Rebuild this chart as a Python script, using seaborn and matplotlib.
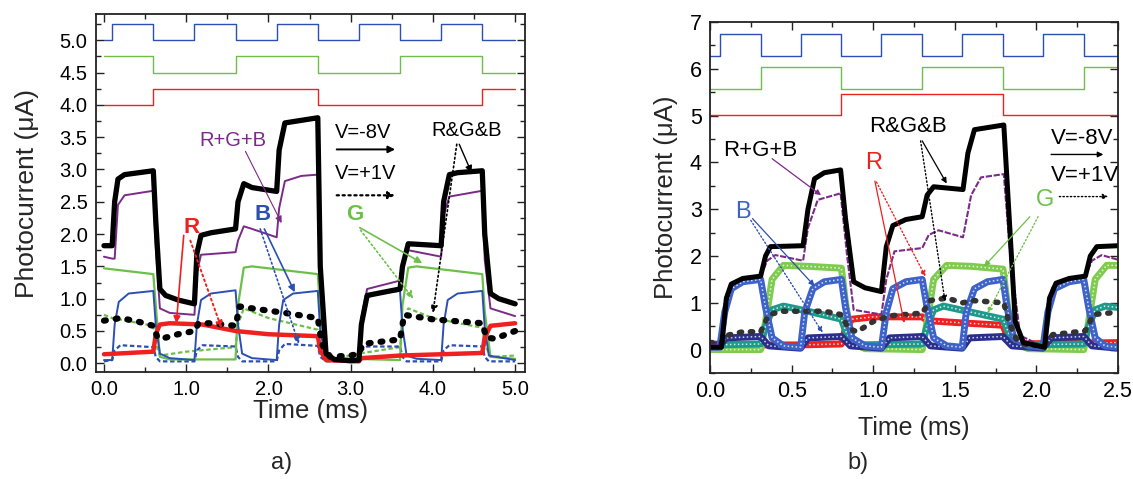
import numpy as np
import pandas as pd
import matplotlib
matplotlib.use("Agg")
import matplotlib.pyplot as plt
from matplotlib.ticker import MultipleLocator, FormatStrFormatter
import seaborn as sns

# ---------------- Panel a) data (time in ms, current in uA) ----------------
a_blue_sq_t = [0.0, 0.1, 0.6, 1.1, 1.6, 2.1, 2.6, 3.1, 3.6, 4.1, 4.6, 5.0]
a_blue_sq_v = [5.0, 5.25, 5.0, 5.25, 5.0, 5.25, 5.0, 5.25, 5.0, 5.25, 5.0, 5.0]
a_green_sq_t = [0.0, 0.6, 1.6, 2.6, 3.6, 4.6, 5.0]
a_green_sq_v = [4.75, 4.5, 4.75, 4.5, 4.75, 4.5, 4.5]
a_red_sq_t = [0.0, 0.6, 2.6, 4.6, 5.0]
a_red_sq_v = [4.0, 4.25, 4.0, 4.25, 4.25]

a_rgb_m8_t = [0.0, 0.1, 0.13, 0.17, 0.25, 0.6, 0.63, 0.68, 0.75, 0.9, 1.1,
              1.13, 1.18, 1.3, 1.6, 1.63, 1.7, 1.8, 2.1, 2.13, 2.2, 2.4, 2.6,
              2.63, 2.7, 2.8, 3.0, 3.1, 3.13, 3.2, 3.6, 3.63, 3.7, 4.1, 4.13,
              4.2, 4.3, 4.6, 4.63, 4.7, 4.8, 5.0]
a_rgb_m8_v = [1.82, 1.82, 2.5, 2.85, 2.92, 2.98, 2.2, 1.15, 1.05, 0.98, 0.92,
              1.7, 1.98, 2.02, 2.08, 2.5, 2.78, 2.72, 2.66, 3.3, 3.72, 3.76, 3.8,
              1.5, 0.15, 0.06, 0.04, 0.05, 0.6, 1.05, 1.15, 1.5, 1.85, 1.82, 2.5,
              2.92, 2.95, 2.98, 2.0, 1.08, 1.0, 0.92]

a_sum_t = [0.0, 0.1, 0.13, 0.17, 0.25, 0.6, 0.63, 0.68, 0.8, 1.1, 1.13, 1.18,
           1.6, 1.63, 1.7, 1.8, 2.1, 2.13, 2.2, 2.4, 2.6, 2.63, 2.7, 2.8, 3.1,
           3.13, 3.2, 3.6, 3.63, 3.7, 4.1, 4.13, 4.2, 4.6, 4.63, 4.7, 5.0]
a_sum_v = [1.65, 1.62, 1.62, 2.45, 2.6, 2.67, 1.8, 0.85, 0.78, 0.75, 1.4, 1.68,
           1.72, 1.9, 2.12, 2.08, 1.95, 2.4, 2.82, 2.9, 2.92, 1.5, 0.15, 0.07, 0.05,
           0.7, 1.15, 1.28, 1.55, 1.75, 1.65, 2.3, 2.58, 2.67, 1.6, 0.85, 0.73]

a_g_m8_t = [0.0, 0.6, 0.63, 0.68, 0.8, 1.6, 1.63, 1.7, 1.8, 2.6, 2.63, 2.7,
            3.6, 3.63, 3.7, 3.8, 4.6, 4.63, 4.7, 5.0]
a_g_m8_v = [1.47, 1.38, 0.9, 0.1, 0.06, 0.06, 0.9, 1.48, 1.5, 1.38, 0.8, 0.08,
            0.05, 0.9, 1.48, 1.5, 1.38, 0.8, 0.1, 0.07]
a_g_p1_t = [0.0, 0.1, 0.6, 0.63, 0.68, 1.0, 1.6, 1.63, 1.7, 2.0, 2.6, 2.63, 2.7,
            3.1, 3.6, 3.63, 3.7, 4.0, 4.6, 4.63, 4.7, 5.0]
a_g_p1_v = [0.75, 0.7, 0.58, 0.3, 0.12, 0.18, 0.25, 0.6, 0.85, 0.7, 0.52, 0.25,
            0.05, 0.15, 0.25, 0.6, 0.85, 0.7, 0.55, 0.3, 0.1, 0.12]

a_b_m8_t = [0.0, 0.1, 0.13, 0.18, 0.3, 0.6, 0.63, 0.68, 0.8, 1.1, 1.13, 1.18,
            1.3, 1.6, 1.63, 1.68, 1.8, 2.1, 2.13, 2.18, 2.3, 2.6, 2.63, 2.7, 3.1,
            3.13, 3.18, 3.3, 3.6, 3.63, 3.68, 3.8, 4.1, 4.13, 4.18, 4.3, 4.6,
            4.63, 4.68, 5.0]
a_b_m8_v = [0.05, 0.05, 0.6, 0.95, 1.08, 1.12, 0.6, 0.15, 0.08, 0.05, 0.6, 0.98,
            1.08, 1.13, 0.6, 0.15, 0.08, 0.05, 0.6, 0.98, 1.08, 1.12, 0.5, 0.05,
            0.03, 0.7, 1.0, 1.08, 1.12, 0.55, 0.12, 0.07, 0.05, 0.6, 0.98, 1.08,
            1.12, 0.55, 0.12, 0.05]
a_b_p1_t = [0.0, 0.1, 0.13, 0.2, 0.6, 0.63, 0.68, 1.1, 1.13, 1.2, 1.6, 1.63,
            1.68, 2.1, 2.13, 2.2, 2.6, 2.63, 2.7, 3.1, 3.13, 3.2, 3.6, 3.63,
            3.68, 4.1, 4.13, 4.2, 4.6, 4.63, 4.68, 5.0]
a_b_p1_v = [0.03, 0.05, 0.2, 0.28, 0.25, 0.1, 0.03, 0.03, 0.2, 0.28, 0.26, 0.1,
            0.03, 0.03, 0.2, 0.3, 0.27, 0.1, 0.03, 0.03, 0.2, 0.26, 0.26, 0.1,
            0.03, 0.03, 0.2, 0.28, 0.26, 0.1, 0.03, 0.03]

a_r_m8_t = [0.0, 0.6, 0.63, 0.68, 0.8, 1.2, 1.6, 2.0, 2.6, 2.63, 2.7, 3.1,
            3.13, 3.6, 4.6, 4.63, 4.7, 5.0]
a_r_m8_v = [0.14, 0.18, 0.45, 0.6, 0.62, 0.6, 0.5, 0.45, 0.42, 0.2, 0.05, 0.03,
            0.08, 0.12, 0.16, 0.4, 0.58, 0.62]

a_rgb_p1_t = [0.0, 0.2, 0.4, 0.6, 0.65, 0.7, 0.9, 1.1, 1.15, 1.3, 1.6, 1.65,
              1.8, 2.2, 2.6, 2.65, 2.75, 3.0, 3.1, 3.15, 3.6, 3.65, 4.0, 4.6,
              4.65, 4.75, 5.0]
a_rgb_p1_v = [0.66, 0.7, 0.65, 0.58, 0.4, 0.38, 0.45, 0.5, 0.62, 0.62, 0.58,
              0.88, 0.85, 0.78, 0.7, 0.3, 0.1, 0.12, 0.15, 0.3, 0.37, 0.75, 0.68,
              0.62, 0.4, 0.38, 0.5]

# ---------------- Panel b) data ----------------
b_blue_sq_t = [0.0, 0.06, 0.31, 0.555, 0.805, 1.05, 1.30, 1.545, 1.795, 2.04, 2.29, 2.5]
b_blue_sq_v = [6.27, 6.75, 6.27, 6.75, 6.27, 6.75, 6.27, 6.75, 6.27, 6.75, 6.27, 6.27]
b_green_sq_t = [0.0, 0.31, 0.805, 1.30, 1.795, 2.29, 2.5]
b_green_sq_v = [5.56, 6.03, 5.56, 6.03, 5.56, 6.03, 6.03]
b_red_sq_t = [0.0, 0.805, 1.795, 2.5]
b_red_sq_v = [5.01, 5.46, 5.01, 5.01]

b_rgb_m8_t = [0.0, 0.07, 0.1, 0.13, 0.2, 0.31, 0.34, 0.37, 0.57, 0.6, 0.64, 0.7,
              0.8, 0.83, 0.88, 0.95, 1.05, 1.08, 1.12, 1.2, 1.3, 1.33, 1.37,
              1.55, 1.58, 1.62, 1.8, 1.83, 1.87, 1.92, 2.05, 2.08, 2.12, 2.2,
              2.3, 2.33, 2.37, 2.5]
b_rgb_m8_v = [0.05, 0.05, 1.1, 1.4, 1.52, 1.57, 2.0, 2.2, 2.22, 3.0, 3.65, 3.78,
              3.84, 2.8, 1.45, 1.32, 1.24, 2.2, 2.65, 2.78, 2.84, 3.3, 3.48,
              3.42, 4.2, 4.7, 4.8, 3.0, 0.6, 0.15, 0.05, 1.1, 1.42, 1.52,
              1.57, 2.0, 2.2, 2.22]
b_sum_t = [0.0, 0.07, 0.1, 0.14, 0.2, 0.31, 0.35, 0.4, 0.57, 0.6, 0.66, 0.8,
           0.84, 0.88, 1.05, 1.08, 1.13, 1.3, 1.34, 1.4, 1.55, 1.6, 1.66, 1.8,
           1.84, 1.9, 2.05, 2.08, 2.13, 2.3, 2.34, 2.4, 2.5]
b_sum_v = [0.1, 0.1, 1.0, 1.4, 1.52, 1.57, 1.9, 2.02, 1.9, 2.6, 3.2, 3.34,
           2.0, 0.85, 0.75, 1.5, 2.1, 2.17, 2.45, 2.55, 2.4, 3.3, 3.68, 3.75,
           2.0, 0.3, 0.05, 1.0, 1.42, 1.57, 1.9, 2.02, 1.92]

b_b_m8_t = [0.0, 0.06, 0.09, 0.13, 0.2, 0.31, 0.34, 0.38, 0.45, 0.555, 0.58,
            0.63, 0.7, 0.805, 0.83, 0.87, 0.95, 1.05, 1.08, 1.12, 1.2, 1.30,
            1.33, 1.37, 1.45, 1.545, 1.57, 1.62, 1.7, 1.795, 1.82, 1.86, 1.95,
            2.04, 2.07, 2.11, 2.2, 2.29, 2.32, 2.36, 2.42, 2.5]
b_b_m8_v = [0.05, 0.05, 0.8, 1.3, 1.45, 1.5, 0.9, 0.25, 0.08, 0.05, 0.8,
            1.3, 1.45, 1.5, 0.9, 0.25, 0.08, 0.05, 0.8, 1.3, 1.45, 1.5,
            0.9, 0.25, 0.08, 0.05, 0.8, 1.3, 1.45, 1.5, 0.9, 0.25, 0.08,
            0.05, 0.8, 1.3, 1.45, 1.5, 0.9, 0.25, 0.08, 0.05]
b_b_p1_t = [0.0, 0.06, 0.1, 0.31, 0.36, 0.555, 0.6, 0.805, 0.86, 1.05, 1.1,
            1.30, 1.35, 1.545, 1.59, 1.795, 1.85, 2.04, 2.09, 2.29, 2.34, 2.5]
b_b_p1_v = [0.1, 0.1, 0.25, 0.28, 0.08, 0.03, 0.25, 0.28, 0.08, 0.03, 0.25,
            0.28, 0.08, 0.03, 0.25, 0.28, 0.08, 0.03, 0.25, 0.28, 0.08, 0.03]

b_g_m8_t = [0.0, 0.31, 0.34, 0.38, 0.45, 0.6, 0.805, 0.83, 0.87, 0.95, 1.30,
            1.33, 1.37, 1.45, 1.6, 1.795, 1.82, 1.86, 1.95, 2.29, 2.32, 2.36,
            2.43, 2.5]
b_g_m8_v = [0.0, 0.0, 0.6, 1.5, 1.8, 1.78, 1.74, 1.0, 0.15, 0.02, 0.0,
            0.6, 1.5, 1.8, 1.78, 1.72, 1.0, 0.15, 0.02, 0.0, 0.6, 1.5,
            1.8, 1.8]
b_g_p1_t = [0.0, 0.31, 0.34, 0.38, 0.45, 0.6, 0.805, 0.83, 0.88, 1.30, 1.33,
            1.37, 1.43, 1.6, 1.795, 1.83, 1.88, 2.29, 2.32, 2.36, 2.42, 2.5]
b_g_p1_v = [0.1, 0.12, 0.5, 0.85, 0.93, 0.82, 0.65, 0.4, 0.1, 0.12, 0.5,
            0.85, 0.93, 0.8, 0.65, 0.35, 0.1, 0.12, 0.5, 0.85, 0.93, 0.9]

b_r_m8_t = [0.0, 0.3, 0.55, 0.805, 0.83, 0.87, 1.0, 1.30, 1.33, 1.5, 1.795,
            1.82, 1.87, 2.5]
b_r_m8_v = [0.12, 0.1, 0.1, 0.12, 0.45, 0.65, 0.7, 0.7, 0.62, 0.58, 0.52,
            0.3, 0.12, 0.15]

b_rgb_p1_t = [0.0, 0.07, 0.1, 0.2, 0.31, 0.36, 0.45, 0.7, 0.8, 0.85, 0.9, 1.0,
              1.1, 1.3, 1.35, 1.45, 1.55, 1.6, 1.8, 1.83, 1.88, 1.95, 2.05,
              2.1, 2.3, 2.35, 2.5]
b_rgb_p1_v = [0.15, 0.15, 0.3, 0.38, 0.38, 0.75, 0.82, 0.82, 0.75, 0.45, 0.38,
              0.6, 0.72, 0.78, 1.05, 1.1, 1.0, 1.05, 1.0, 0.6, 0.2, 0.08, 0.1,
              0.32, 0.4, 0.75, 0.8]

# ---------------- Styling ----------------
sns.set_theme(style="ticks")
plt.rcParams['font.family'] = ['Liberation Sans', 'DejaVu Sans']

BLUE = '#2c4fb3'
GREEN = '#6cc04a'
RED = '#ee2020'
PURPLE = '#7b2a88'
BLUE_C = '#3d62c9'
NAVY = '#2a2f8c'
TEAL = '#1f998a'
GREEN_C = '#7fcb50'

fig = plt.figure(figsize=(11.33, 4.79), dpi=100)
ax1 = fig.add_axes([0.0845, 0.224, 0.3789, 0.746])
ax2 = fig.add_axes([0.6267, 0.2213, 0.3601, 0.7327])


def line(ax, t, v, color, lw=1.0, ls='-', step=False, **kw):
    extra = {'drawstyle': 'steps-post'} if step else {}
    sns.lineplot(x=t, y=v, ax=ax, color=color, lw=lw, linestyle=ls,
                 estimator=None, sort=False, legend=False, **extra, **kw)


def band(ax, t, v, color, lw=5.0):
    # emulate dense open-circle markers: thick colored band with light holes
    line(ax, t, v, color, lw=lw)
    line(ax, t, v, 'white', lw=1.1, ls=(0, (1, 1.6)), alpha=0.8)


# ---- panel a ----
line(ax1, a_blue_sq_t, a_blue_sq_v, BLUE, 1.0, step=True)
line(ax1, a_green_sq_t, a_green_sq_v, GREEN, 1.0, step=True)
line(ax1, a_red_sq_t, a_red_sq_v, RED, 1.0, step=True)

line(ax1, a_g_p1_t, a_g_p1_v, GREEN, 1.6, ls=(0, (2, 1.2)))
line(ax1, a_b_p1_t, a_b_p1_v, BLUE, 1.6, ls=(0, (2, 1.2)))
line(ax1, a_g_m8_t, a_g_m8_v, GREEN, 1.6)
line(ax1, a_b_m8_t, a_b_m8_v, BLUE, 1.4)
line(ax1, a_r_m8_t, a_r_m8_v, RED, 3.2)
line(ax1, a_rgb_p1_t, a_rgb_p1_v, 'black', 4.5, ls=(0, (0.3, 1.6)),
     dash_capstyle='round')
line(ax1, a_sum_t, a_sum_v, PURPLE, 1.4)
line(ax1, a_rgb_m8_t, a_rgb_m8_v, 'black', 3.8)

ax1.set_xlim(-0.1, 5.12)
ax1.set_ylim(-0.13, 5.4)
ax1.xaxis.set_major_locator(MultipleLocator(1.0))
ax1.xaxis.set_minor_locator(MultipleLocator(0.5))
ax1.yaxis.set_major_locator(MultipleLocator(0.5))
ax1.yaxis.set_minor_locator(MultipleLocator(0.25))
ax1.xaxis.set_major_formatter(FormatStrFormatter('%.1f'))
ax1.yaxis.set_major_formatter(FormatStrFormatter('%.1f'))
ax1.set_xlabel('Time (ms)', fontsize=18.5, labelpad=0)
ax1.set_ylabel('Photocurrent (\u03bcA)', fontsize=19, labelpad=15)

ap = dict(arrowstyle='-|>', mutation_scale=10, shrinkA=0, shrinkB=0)
ax1.text(1.57, 3.45, 'R+G+B', color=PURPLE, fontsize=14.5, ha='center', va='center')
ax1.annotate('', xy=(2.16, 2.17), xytext=(1.72, 3.28),
             arrowprops=dict(ap, color=PURPLE, lw=0.8))
ax1.text(1.93, 2.3, 'B', color=BLUE, fontsize=16, fontweight='bold', ha='center', va='center')
ax1.annotate('', xy=(2.32, 1.1), xytext=(1.95, 2.08),
             arrowprops=dict(ap, color=BLUE, lw=1.2))
ax1.annotate('', xy=(2.37, 0.3), xytext=(1.9, 2.08),
             arrowprops=dict(ap, color=BLUE, lw=1.2, linestyle=':'))
ax1.text(1.06, 2.1, 'R', color=RED, fontsize=16, fontweight='bold', ha='center', va='center')
ax1.annotate('', xy=(0.88, 0.62), xytext=(0.97, 1.98),
             arrowprops=dict(ap, color=RED, lw=1.2))
ax1.annotate('', xy=(1.43, 0.54), xytext=(1.05, 1.9),
             arrowprops=dict(ap, color=RED, lw=1.4, linestyle=':'))
ax1.text(3.05, 2.31, 'G', color=GREEN, fontsize=16, fontweight='bold', ha='center', va='center')
ax1.annotate('', xy=(3.87, 1.55), xytext=(3.11, 2.1),
             arrowprops=dict(ap, color=GREEN, lw=1.2))
ax1.annotate('', xy=(3.76, 1.0), xytext=(3.12, 2.06),
             arrowprops=dict(ap, color=GREEN, lw=1.2, linestyle=':'))
ax1.text(2.81, 3.57, 'V=-8V', color='black', fontsize=14.5, ha='left', va='center')
ax1.annotate('', xy=(3.54, 3.31), xytext=(2.83, 3.31),
             arrowprops=dict(ap, color='black', lw=1.4))
ax1.text(2.81, 2.93, 'V=+1V', color='black', fontsize=14.5, ha='left', va='center')
ax1.annotate('', xy=(3.54, 2.6), xytext=(2.83, 2.6),
             arrowprops=dict(ap, color='black', lw=1.6, linestyle=':'))
ax1.text(4.41, 3.6, 'R&G&B', color='black', fontsize=14.5, ha='center', va='center')
ax1.annotate('', xy=(4.47, 2.95), xytext=(4.32, 3.39),
             arrowprops=dict(ap, color='black', lw=1.0))
ax1.annotate('', xy=(4.0, 0.78), xytext=(4.29, 3.39),
             arrowprops=dict(ap, color='black', lw=1.2, linestyle=':'))

# ---- panel b ----
line(ax2, b_blue_sq_t, b_blue_sq_v, BLUE, 1.0, step=True)
line(ax2, b_green_sq_t, b_green_sq_v, GREEN, 1.0, step=True)
line(ax2, b_red_sq_t, b_red_sq_v, RED, 1.0, step=True)

band(ax2, b_r_m8_t, b_r_m8_v, RED)
band(ax2, b_g_m8_t, b_g_m8_v, GREEN_C)
band(ax2, b_g_p1_t, b_g_p1_v, TEAL)
band(ax2, b_b_p1_t, b_b_p1_v, NAVY)
band(ax2, b_b_m8_t, b_b_m8_v, BLUE_C)
line(ax2, b_rgb_p1_t, b_rgb_p1_v, '#333333', 4.0, ls=(0, (0.4, 1.6)),
     dash_capstyle='round')
line(ax2, b_sum_t, b_sum_v, PURPLE, 1.5, ls=(0, (3, 0.8)))
line(ax2, b_rgb_m8_t, b_rgb_m8_v, 'black', 3.6)

ax2.set_xlim(0, 2.5)
ax2.set_ylim(-0.5, 7)
ax2.xaxis.set_major_locator(MultipleLocator(0.5))
ax2.xaxis.set_minor_locator(MultipleLocator(0.25))
ax2.yaxis.set_major_locator(MultipleLocator(1))
ax2.yaxis.set_minor_locator(MultipleLocator(0.5))
ax2.xaxis.set_major_formatter(FormatStrFormatter('%.1f'))
ax2.yaxis.set_major_formatter(FormatStrFormatter('%d'))
ax2.set_xlabel('Time (ms)', fontsize=18, labelpad=10)
ax2.set_ylabel('Photocurrent (\u03bcA)', fontsize=18.5, labelpad=8)

ap2 = dict(arrowstyle='-|>', mutation_scale=8, shrinkA=0, shrinkB=0)
ax2.text(0.31, 4.26, 'R+G+B', color='black', fontsize=16, ha='center', va='center')
ax2.annotate('', xy=(0.68, 3.3), xytext=(0.38, 4.08),
             arrowprops=dict(ap2, color=PURPLE, lw=0.9))
ax2.text(0.2, 2.95, 'B', color=BLUE_C, fontsize=17, ha='center', va='center')
ax2.annotate('', xy=(0.64, 1.36), xytext=(0.26, 2.8),
             arrowprops=dict(ap2, color=BLUE, lw=0.9))
ax2.annotate('', xy=(0.69, 0.36), xytext=(0.25, 2.76),
             arrowprops=dict(ap2, color=BLUE, lw=1.0, linestyle=':'))
ax2.text(1.0, 3.98, 'R', color=RED, fontsize=17, ha='center', va='center')
ax2.annotate('', xy=(1.19, 0.57), xytext=(1.01, 3.6),
             arrowprops=dict(ap2, color=RED, lw=0.9))
ax2.annotate('', xy=(1.32, 1.56), xytext=(1.02, 3.58),
             arrowprops=dict(ap2, color=RED, lw=1.0, linestyle=':'))
ax2.text(1.21, 4.76, 'R&G&B', color='black', fontsize=16, ha='center', va='center')
ax2.annotate('', xy=(1.45, 3.55), xytext=(1.30, 4.46),
             arrowprops=dict(ap2, color='black', lw=0.9))
ax2.annotate('', xy=(1.44, 1.03), xytext=(1.29, 4.46),
             arrowprops=dict(ap2, color='black', lw=1.0, linestyle=':'))
ax2.text(2.05, 3.2, 'G', color=GREEN, fontsize=17, ha='center', va='center')
ax2.annotate('', xy=(1.68, 1.78), xytext=(1.96, 2.84),
             arrowprops=dict(ap2, color=GREEN, lw=0.9))
ax2.annotate('', xy=(1.70, 0.78), xytext=(2.01, 2.84),
             arrowprops=dict(ap2, color=GREEN, lw=1.0, linestyle=':'))
ax2.text(2.09, 4.51, 'V=-8V', color='black', fontsize=16, ha='left', va='center')
ax2.annotate('', xy=(2.41, 4.17), xytext=(2.09, 4.17),
             arrowprops=dict(ap2, color='black', lw=1.0))
ax2.text(2.09, 3.73, 'V=+1V', color='black', fontsize=16, ha='left', va='center',
         clip_on=False)
ax2.annotate('', xy=(2.44, 3.27), xytext=(2.14, 3.27),
             arrowprops=dict(ap2, color='black', lw=1.0, linestyle=':'))

for ax, fs in ((ax1, 14.5), (ax2, 15.5)):
    ax.tick_params(which='both', direction='in', top=True, right=True,
                   bottom=True, left=True, labelsize=fs, colors='#222222',
                   labelcolor='black')
    ax.tick_params(which='major', length=6, width=1.0, pad=6)
    ax.tick_params(which='minor', length=3.5, width=1.0)
    for s in ax.spines.values():
        s.set_linewidth(1.3)
        s.set_color('#222222')
        s.set_visible(True)

fig.text(282 / 1133, 1 - 463 / 479, 'a)', fontsize=17, ha='center', va='center')
fig.text(858 / 1133, 1 - 463 / 479, 'b)', fontsize=17, ha='center', va='center')

fig.savefig('out.png', dpi=100, facecolor='white')
